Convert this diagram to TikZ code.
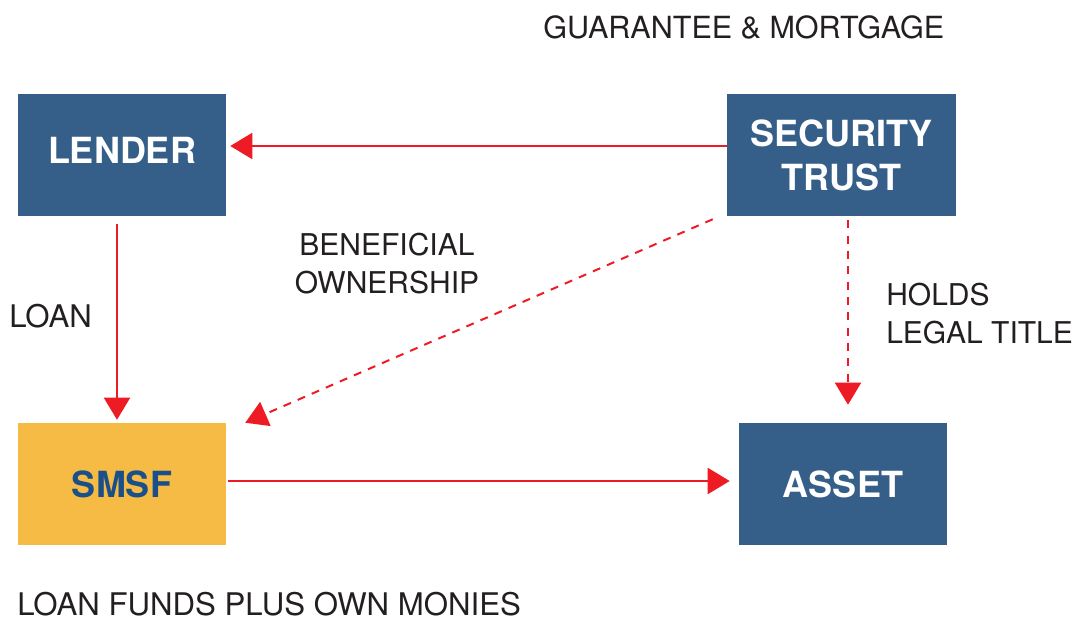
\documentclass[tikz,border=0pt]{standalone}
\usepackage{fontspec}
\setmainfont{TeX Gyre Heros}
\usetikzlibrary{arrows.meta,calc}
\definecolor{boxblue}{HTML}{355F88}
\definecolor{boxyellow}{HTML}{F5BB44}
\definecolor{smsfblue}{HTML}{1A4F8A}
\definecolor{arrowred}{HTML}{ED1C24}
\definecolor{textgrey}{HTML}{231F20}
\tikzset{
  entity/.style={rectangle, fill=boxblue, text=white, inner sep=0pt,
    minimum width=156pt, minimum height=91.5pt, align=center,
    font=\fontsize{27}{33}\selectfont\bfseries},
  fundbox/.style={entity, fill=boxyellow, text=smsfblue},
  lbl/.style={inner sep=0pt, text=textgrey, font=\fontsize{22.5}{28.5}\selectfont},
  biglbl/.style={lbl, font=\fontsize{23.4}{28.5}\selectfont},
  link/.style={draw=arrowred, line width=1.5pt, -{Triangle[length=16.5pt,width=19.5pt]}},
  dashlink/.style={link, dash pattern=on 6pt off 5.5pt},
}
\begin{document}
\begin{tikzpicture}[x=0.75pt,y=-0.75pt]
\useasboundingbox (0,0) rectangle (1076,621);
\node[entity] (lender) at (122,155) {\raisebox{7.5pt}{LENDER}};
\node[entity, minimum width=171.75pt] (sec) at (841.5,155) {SECURITY\\TRUST};
\node[fundbox] (smsf) at (122,484) {SMSF};
\node[entity] (asset) at (843,484) {ASSET};

\coordinate (secL) at ($(sec.west)+(0,-9)$);
\coordinate (lenR) at ($(lender.east)+(4,-9)$);
\draw[link] (secL) -- (lenR);

\coordinate (lenB) at ($(lender.south)+(-5,8)$);
\coordinate (smsfT) at ($(smsf.north)+(-5,-3)$);
\draw[link] (lenB) -- (smsfT);

\coordinate (smsfR) at ($(smsf.east)+(2,-3)$);
\coordinate (assetL) at ($(asset.west)+(-9,-3)$);
\draw[link] (smsfR) -- (assetL);

\coordinate (secSW) at ($(sec.south west)+(-14,3)$);
\coordinate (smsfNE) at ($(smsf.north east)+(19,0)$);
\draw[dashlink] (secSW) -- (smsfNE);

\coordinate (secS) at ($(sec.south)+(6.5,4)$);
\coordinate (assetT) at ($(asset.north)+(5,-18)$);
\draw[dashlink] (secS) -- (assetT);

\node[lbl, font=\fontsize{22.9}{28.5}\selectfont, anchor=base west] (guar) at (543,38) {GUARANTEE \& MORTGAGE};
\node[lbl, align=center] (benef) at (387,263.5) {BENEFICIAL\\OWNERSHIP};
\node[lbl, align=left, anchor=west] (holds) at (886,313.5) {HOLDS\\LEGAL TITLE};
\node[biglbl, anchor=base west] (loan) at (9,327) {LOAN};
\node[biglbl, anchor=base west, text depth=0pt] (funds) at (17,615.5) {LOAN FUNDS PLUS OWN MONIES};
\end{tikzpicture}
\end{document}
